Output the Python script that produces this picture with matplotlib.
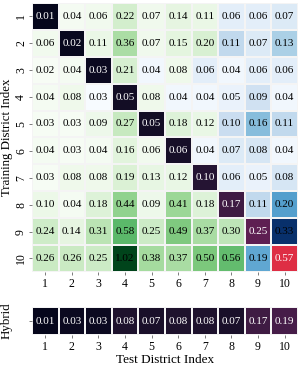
import numpy as np
import seaborn as sns
from matplotlib import pyplot as plt

plt.rcParams['font.family'] = ['Liberation Serif', 'DejaVu Serif']

# Erro (linhas: distrito de treino, colunas: distrito de teste)
districts = [str(i) for i in range(1, 11)]
row1 = [0.01, 0.04, 0.06, 0.22, 0.07, 0.14, 0.11, 0.06, 0.06, 0.07]
row2 = [0.06, 0.02, 0.11, 0.36, 0.07, 0.15, 0.20, 0.11, 0.07, 0.13]
row3 = [0.02, 0.04, 0.03, 0.21, 0.04, 0.08, 0.06, 0.04, 0.06, 0.06]
row4 = [0.04, 0.08, 0.03, 0.05, 0.08, 0.04, 0.04, 0.05, 0.09, 0.04]
row5 = [0.03, 0.03, 0.09, 0.27, 0.05, 0.18, 0.12, 0.10, 0.16, 0.11]
row6 = [0.04, 0.03, 0.04, 0.16, 0.06, 0.06, 0.04, 0.07, 0.08, 0.04]
row7 = [0.03, 0.08, 0.08, 0.19, 0.13, 0.12, 0.10, 0.06, 0.05, 0.08]
row8 = [0.10, 0.04, 0.18, 0.44, 0.09, 0.41, 0.18, 0.17, 0.11, 0.20]
row9 = [0.24, 0.14, 0.31, 0.58, 0.25, 0.49, 0.37, 0.30, 0.25, 0.33]
row10 = [0.26, 0.26, 0.25, 1.02, 0.38, 0.37, 0.50, 0.56, 0.19, 0.57]
hybrid = [0.01, 0.03, 0.03, 0.08, 0.07, 0.08, 0.08, 0.07, 0.17, 0.19]

err = np.array([row1, row2, row3, row4, row5, row6, row7, row8, row9, row10])
hyb = np.array([hybrid])

diag = np.eye(10, dtype=bool)
own = np.diag(err)[None, :]
worse = (err > own) & ~diag
better = (err <= own) & ~diag
vmax = err.max()

fig = plt.figure(dpi=100, figsize=(3.04, 3.67))
ax = fig.add_axes([0.105, 0.259, 0.875, 0.733])
ax2 = fig.add_axes([0.105, 0.087, 0.875, 0.076])

kw = dict(annot=True, fmt='.2f', cbar=False,
          linewidths=0.3, linecolor='#f4f4f4')
dark = {'size': 8, 'color': 'black'}
light = {'size': 8, 'color': 'white'}
sns.heatmap(err, mask=~worse, cmap='Greens', ax=ax, annot_kws=dark, **kw)
sns.heatmap(err, mask=~better, cmap='Blues', ax=ax, annot_kws=dark, **kw)
sns.heatmap(err, mask=~diag, cmap='rocket', vmin=0, vmax=vmax, ax=ax,
            annot_kws=light, **kw)
sns.heatmap(hyb, cmap='rocket', vmin=0, vmax=vmax, ax=ax2, annot_kws=light, **kw)

ax.set_xticklabels(districts)
ax.set_yticklabels(districts, rotation=90, va='center')
ax.set_ylabel('Training District Index', fontsize=9.3)
ax.yaxis.set_label_coords(-0.071, 0.5)
ax.tick_params(axis='x', length=2, width=0.6, color='#666666', labelsize=8.5, pad=2)
ax.tick_params(axis='y', length=2, width=0.6, color='#666666', labelsize=8.5, pad=1.5)

ax2.set_xticklabels(districts)
ax2.set_yticklabels([''])
ax2.set_ylabel('Hybrid', fontsize=9.3)
ax2.yaxis.set_label_coords(-0.071, 0.5)
ax2.set_xlabel('Test District Index', fontsize=9.5, labelpad=1)
ax2.tick_params(axis='x', length=2, width=0.6, color='#666666', labelsize=8.5, pad=2)
ax2.tick_params(axis='y', length=2, width=0.6, color='#666666', pad=1.5)

fig.savefig('out.png', dpi=100)
